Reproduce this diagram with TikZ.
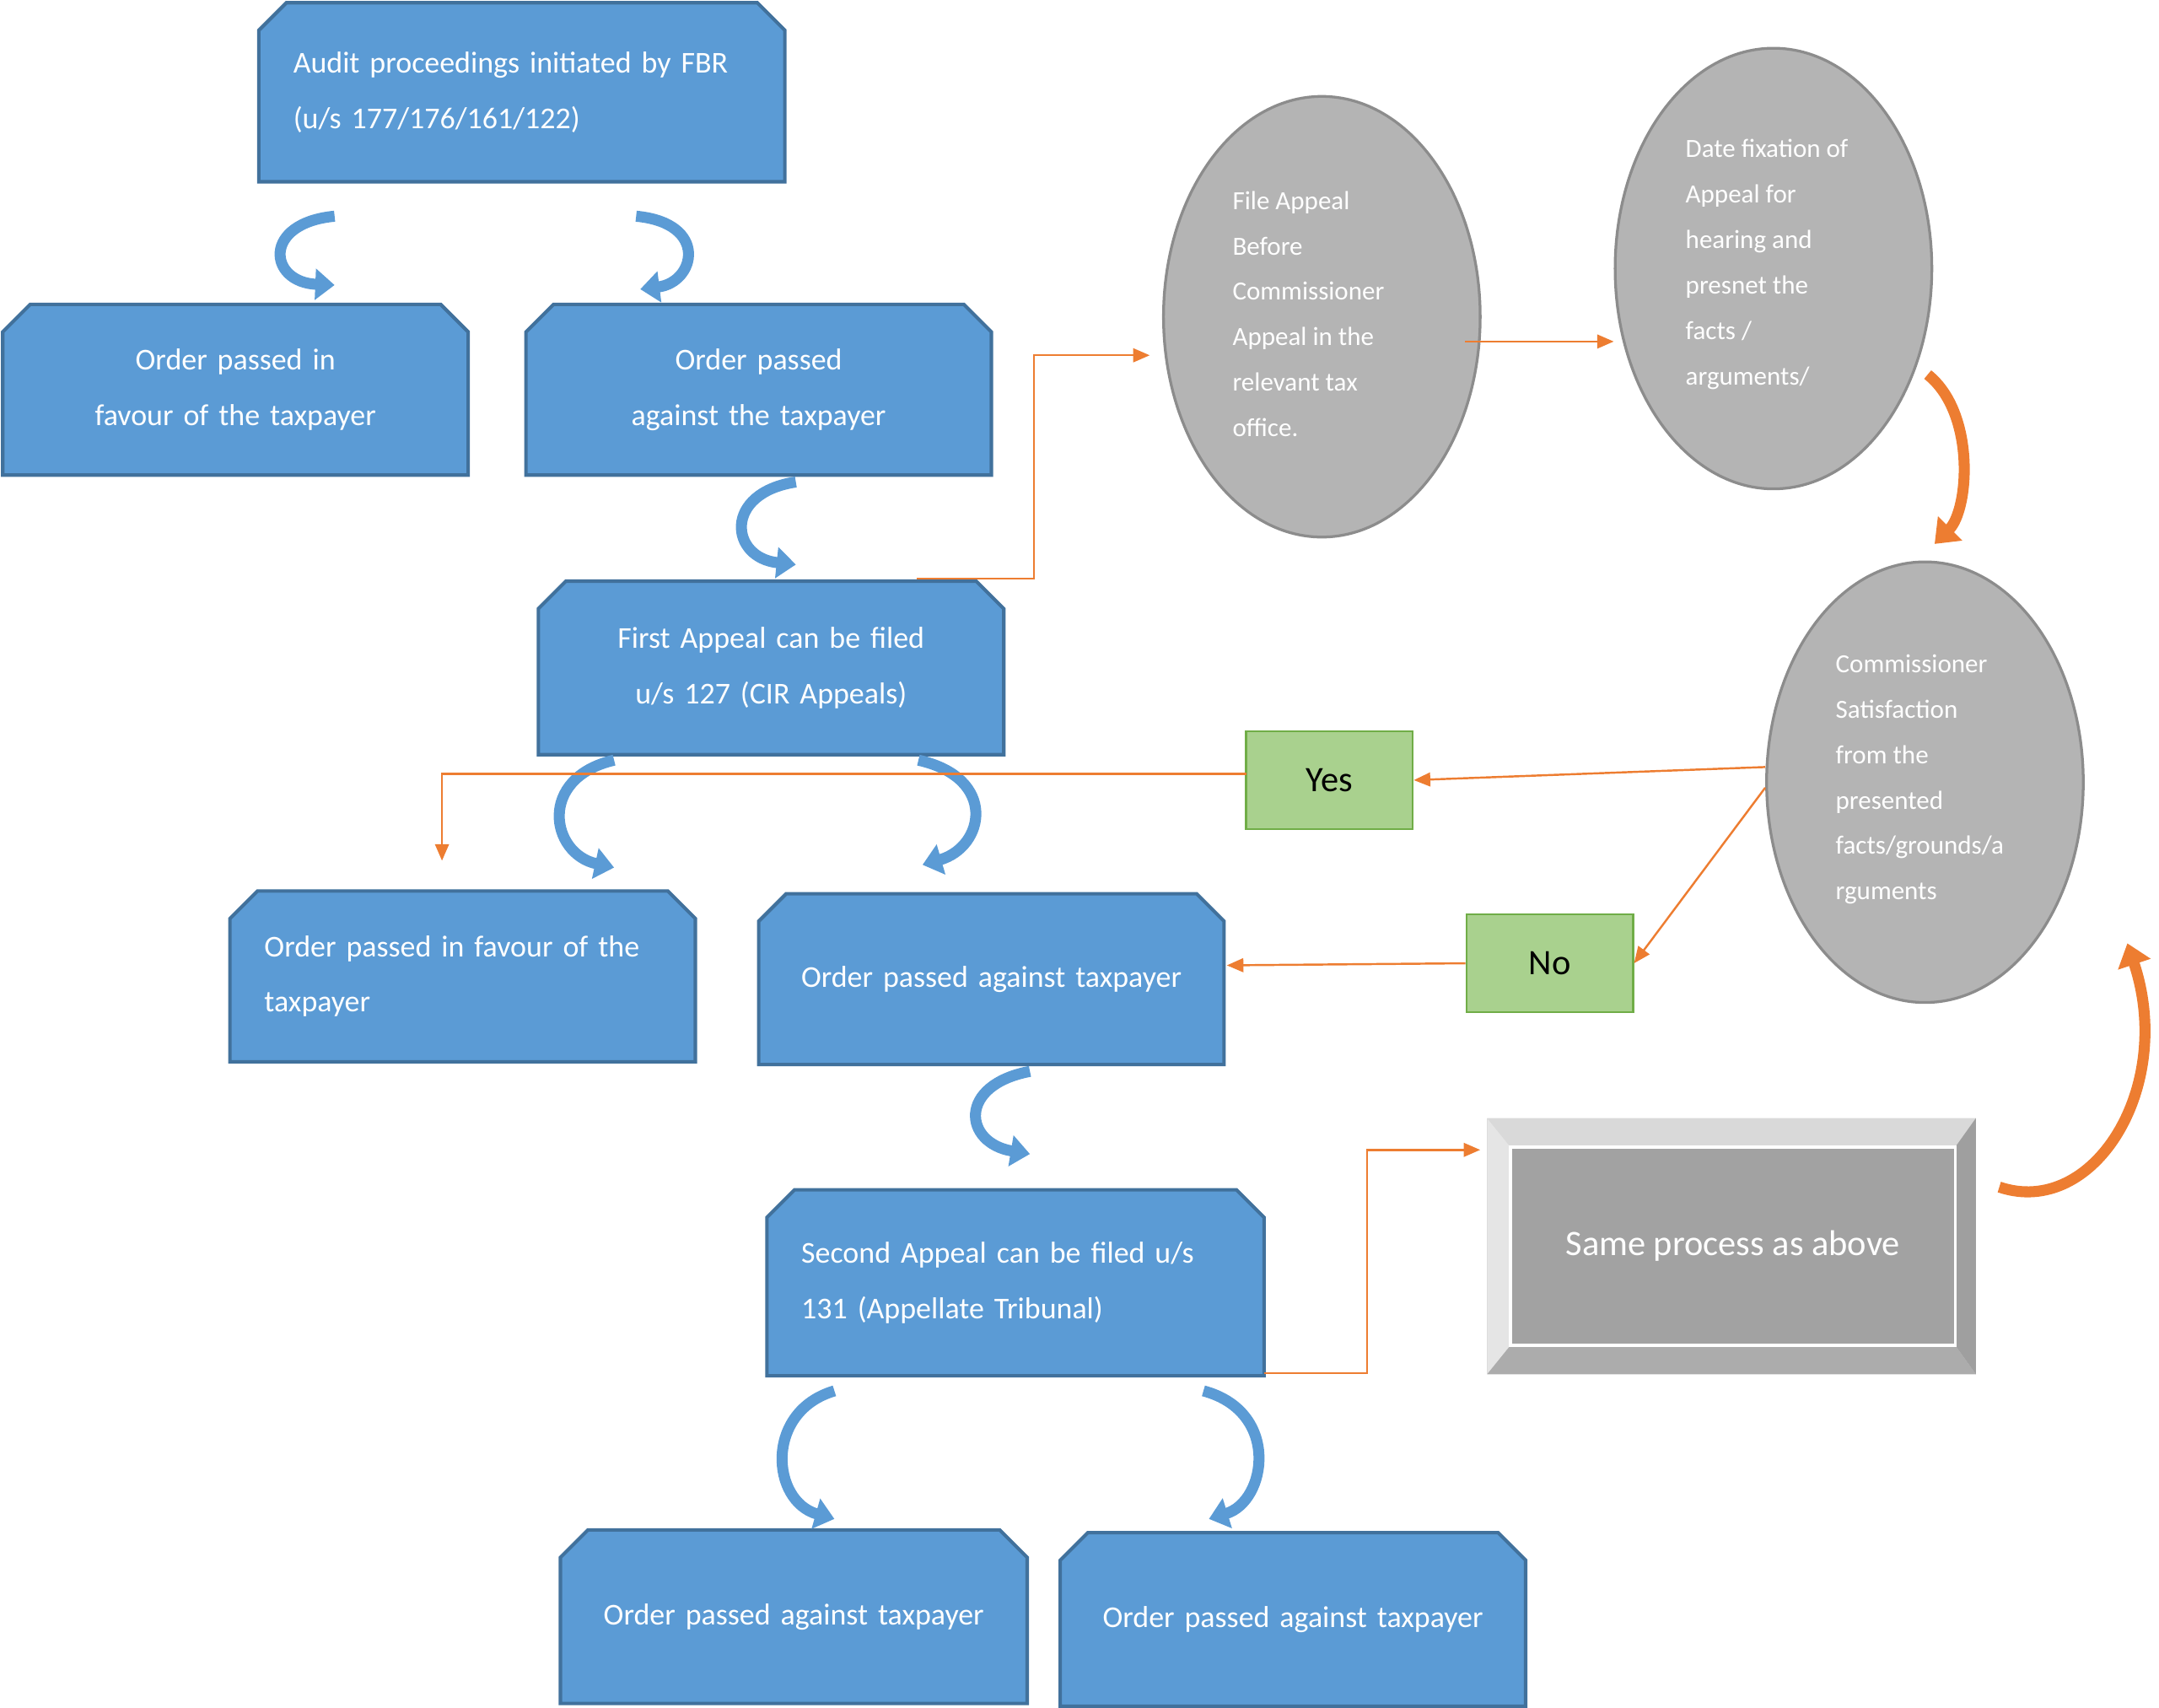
\documentclass[tikz,border=0pt]{standalone}
\usepackage{fontspec}
\setmainfont{Carlito}
\usetikzlibrary{arrows.meta,calc}
\definecolor{bfill}{HTML}{5B9BD5}
\definecolor{bdraw}{HTML}{41719C}
\definecolor{gfill}{HTML}{B4B4B4}
\definecolor{gdraw}{HTML}{8C8C8C}
\definecolor{orng}{HTML}{ED7D31}
\definecolor{grfill}{HTML}{A9D18E}
\definecolor{grdraw}{HTML}{70AD47}
\newcommand\chbox[7]{%
 \path[fill=bfill,draw=bdraw,line width=2.5pt] (#1,#4) -- (#1,#2+20) -- (#1+20,#2) -- (#3-20,#2) -- (#3,#2+20) -- (#3,#4) -- cycle;
 \node[boxtext,text width={(#3-#1-50)*1pt},align=#6] (#5) at ({(#1+#3)/2},{(#2+#4)/2}) {#7};}
\tikzset{
 boxtext/.style={text=white,font=\fontsize{22}{40}\selectfont,inner sep=0pt},
 circ/.style={ellipse,fill=gfill,draw=gdraw,line width=2pt,minimum width=230pt,minimum height=320pt},
 ctext/.style={text=white,font=\fontsize{19}{33}\selectfont,align=left,inner sep=0pt,anchor=west},
 green/.style={fill=grfill,draw=grdraw,line width=1.5pt,minimum width=121pt,minimum height=71pt,font=\fontsize{26}{30}\selectfont},
 oline/.style={draw=orng,line width=1.5pt,-{Triangle[length=12pt,width=10pt]}},
 curl/.style={draw=bfill,line width=8pt,-{Triangle[length=14pt,width=22pt]}},
 ocurl/.style={draw=orng,line width=8pt,-{Triangle[length=16pt,width=24pt]}},
}
\usetikzlibrary{shapes.geometric}
\begin{document}
\begin{tikzpicture}[x=1pt,y=-1pt]
\useasboundingbox (0,0) rectangle (1568,1240);
% blue boxes
\chbox{188}{2}{570}{132}{b1}{left}{Audit proceedings initiated by FBR (u/s 177/176/161/122)}
\chbox{2}{221}{340}{345}{b2}{center}{Order passed in favour of the taxpayer}
\chbox{382}{221}{720}{345}{b3}{center}{Order passed against the taxpayer}
\chbox{391}{422}{729}{548}{b4}{center}{First Appeal can be filed u/s 127 (CIR Appeals)}
\chbox{167}{647}{505}{771}{b5}{left}{Order passed in favour of the taxpayer}
\chbox{551}{649}{889}{773}{b6}{center}{Order passed against taxpayer}
\chbox{557}{864}{918}{999}{b7}{left}{Second Appeal can be filed u/s 131 (Appellate Tribunal)}
\chbox{407}{1111}{746}{1237}{b8}{center}{Order passed against taxpayer}
\chbox{770}{1113}{1108}{1239}{b9}{center}{Order passed against taxpayer}
% circles
\node[circ] (c1) at (960,230) {};
\node[ctext] at (895,228) {File Appeal\\Before\\Commissioner\\Appeal in the\\relevant tax\\office.};
\node[circ] (c2) at (1288,195) {};
\node[ctext] at (1224,192) {Date fixation of\\Appeal for\\hearing and\\presnet the\\facts /\\arguments/};
\node[circ] (c3) at (1398,568) {};
\node[ctext] at (1333,566) {Commissioner\\Satisfaction\\from the\\presented\\facts/grounds/a\\rguments};
% green
\node[green] (yes) at (965.5,566.5) {Yes};
\node[green] (no) at (1125.5,699.5) {No};
% same process box
\fill[gray!40] (1080,812) rectangle (1435,998);
\fill[gray!30] (1080,812) -- (1435,812) -- (1420,833) -- (1097,833) -- cycle;
\fill[gray!20] (1080,812) -- (1097,833) -- (1097,977) -- (1080,998) -- cycle;
\fill[gray!75] (1435,812) -- (1435,998) -- (1420,977) -- (1420,833) -- cycle;
\fill[gray!65] (1080,998) -- (1435,998) -- (1420,977) -- (1097,977) -- cycle;
\node[fill=gfill!90!black,draw=white,line width=2pt,minimum width=323pt,minimum height=144pt,text=white,font=\fontsize{26}{30}\selectfont] (sp) at (1258.5,905) {Same process as above};
% blue curls
\draw[curl] (243,157) .. controls (190,162) and (195,205) .. (243,207);
\draw[curl] (462,157) .. controls (515,162) and (505,205) .. (465,210);
\draw[curl] (578,350) .. controls (525,358) and (530,405) .. (578,410);
\draw[curl] (446,552) .. controls (390,565) and (400,620) .. (446,630);
\draw[curl] (667,552) .. controls (725,565) and (715,615) .. (670,628);
\draw[curl] (748,778) .. controls (695,788) and (700,830) .. (748,838);
\draw[curl] (606,1010) .. controls (555,1025) and (560,1090) .. (606,1103);
\draw[curl] (874,1010) .. controls (930,1025) and (920,1090) .. (878,1103);
% orange connectors
\coordinate (o1) at (666,420);
\draw[oline] (o1) -- (751,420) -- (751,258) -- (835,258);
\draw[oline] (1064,248) -- (1172,248);
\draw[ocurl] (1400,272) .. controls (1435,300) and (1430,370) .. (1405,395);
\draw[oline] (c3.west) ++(0,-11) -- (yes.east);
\coordinate (yl) at (905,562);
\draw[oline] (yl) -- (321,562) -- (321,625);
\draw[oline] (1282,572) -- (no.east);
\draw[oline] (no.west) -- (891,701);
\draw[oline] (918,997) -- (993,997) -- (993,835) -- (1075,835);
\draw[ocurl] (1452,862) .. controls (1520,885) and (1580,790) .. (1545,685);
\end{tikzpicture}
\end{document}
